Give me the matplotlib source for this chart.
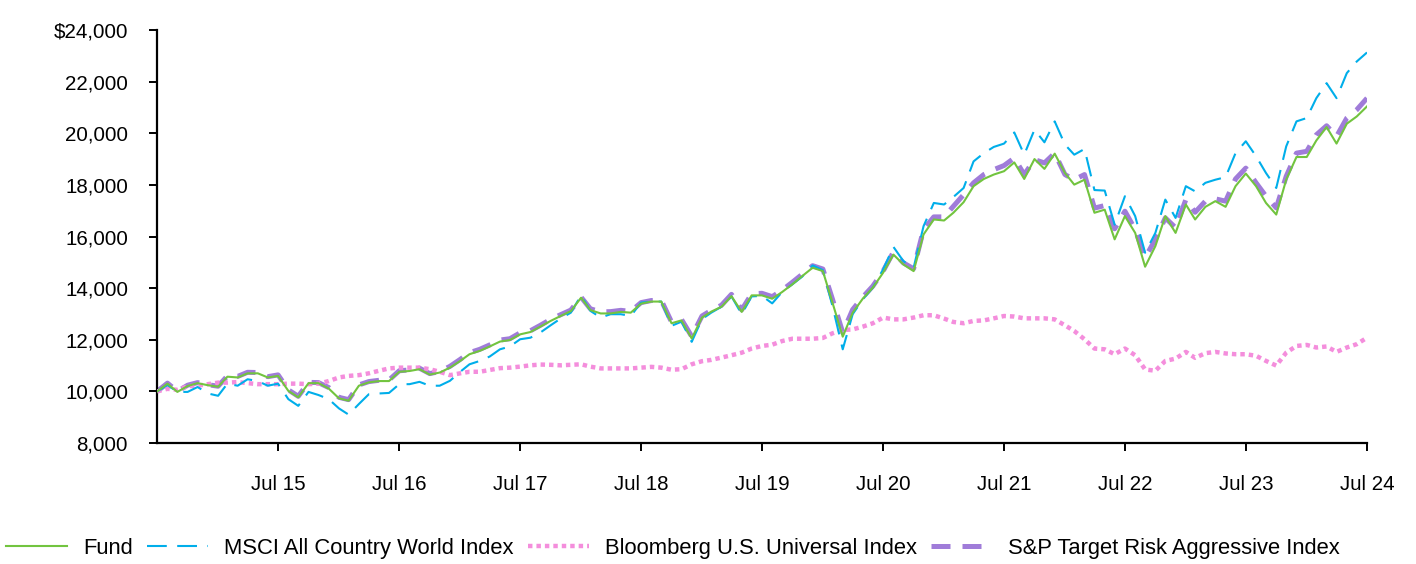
import matplotlib
matplotlib.use('Agg')
import matplotlib.pyplot as plt
import matplotlib.ticker as mticker
import pandas as pd

plt.rcParams['font.family'] = ['Liberation Sans', 'DejaVu Sans']

# month-end dates, Jul 2014 .. Jul 2024
dates = pd.date_range('2014-07-31', periods=121, freq='ME')

fund = [10000, 10300, 9980, 10210, 10320, 10240, 10180, 10570, 10540, 10700, 10700, 10540,
        10600, 10020, 9770, 10320, 10320, 10110, 9730, 9640, 10220, 10350, 10400, 10400,
        10760, 10790, 10860, 10650, 10730, 10920, 11180, 11440, 11570, 11740, 11930, 11990,
        12210, 12300, 12510, 12730, 12920, 13110, 13630, 13150, 13020, 13020, 13080, 13050,
        13400, 13480, 13480, 12640, 12750, 12050, 12860, 13090, 13280, 13690, 13080, 13720,
        13720, 13590, 13850, 14150, 14470, 14790, 14660, 13440, 12120, 13050, 13600, 14020,
        14600, 15300, 14920, 14660, 16080, 16660, 16620, 16920, 17330, 17950, 18230, 18400,
        18530, 18870, 18230, 19000, 18620, 19210, 18460, 18010, 18200, 16920, 17040, 15890,
        16790, 16140, 14830, 15630, 16790, 16140, 17240, 16660, 17150, 17370, 17150, 17950,
        18440, 17950, 17300, 16850, 18200, 19080, 19080, 19720, 20240, 19600, 20370, 20650,
        21040]

msci = [10000, 10250, 9980, 9980, 10170, 9920, 9830, 10300, 10220, 10470, 10400, 10220,
        10300, 9700, 9440, 9980, 9860, 9700, 9340, 9100, 9510, 9890, 9920, 9940,
        10280, 10280, 10370, 10220, 10220, 10410, 10760, 11050, 11180, 11350, 11630, 11740,
        12020, 12080, 12280, 12560, 12820, 13050, 13720, 13120, 12860, 12990, 12990, 12920,
        13440, 13480, 13480, 12540, 12700, 11920, 12800, 13050, 13280, 13680, 12990, 13680,
        13700, 13410, 13850, 14150, 14450, 14880, 14700, 13310, 11630, 12990, 13570, 14020,
        14730, 15600, 15050, 14790, 16400, 17300, 17240, 17530, 17880, 18910, 19230, 19470,
        19600, 20030, 19170, 20140, 19650, 20460, 19560, 19170, 19390, 17800, 17780, 16460,
        17560, 16790, 15370, 16140, 17430, 16720, 17950, 17750, 18080, 18200, 18300, 19230,
        19690, 19110, 18460, 17880, 19490, 20460, 20590, 21360, 21940, 21360, 22330, 22780,
        23130]

bloomberg = [10000, 10100, 10060, 10200, 10220, 10280, 10340, 10340, 10360, 10320, 10280, 10280,
             10280, 10300, 10300, 10280, 10300, 10400, 10540, 10600, 10630, 10700, 10800, 10890,
             10920, 10920, 10920, 10860, 10760, 10630, 10700, 10760, 10760, 10830, 10900, 10920,
             10960, 11010, 11040, 11030, 11010, 11030, 11050, 10960, 10890, 10890, 10890, 10890,
             10920, 10950, 10920, 10840, 10860, 11050, 11170, 11220, 11310, 11400, 11500, 11660,
             11760, 11810, 11950, 12040, 12040, 12040, 12070, 12250, 12380, 12400, 12510, 12640,
             12860, 12790, 12790, 12860, 12950, 12950, 12820, 12690, 12640, 12730, 12750, 12830,
             12920, 12900, 12830, 12830, 12830, 12790, 12560, 12340, 12020, 11660, 11630, 11440,
             11660, 11400, 10850, 10800, 11180, 11270, 11530, 11300, 11480, 11530, 11470, 11440,
             11440, 11380, 11180, 11000, 11500, 11760, 11800, 11700, 11740, 11530, 11700, 11830,
             12080]

sp_aggr = [10000, 10320, 10000, 10240, 10340, 10260, 10200, 10600, 10580, 10740, 10730, 10570,
           10640, 10060, 9810, 10350, 10340, 10150, 9770, 9680, 10250, 10380, 10430, 10440,
           10800, 10830, 10900, 10690, 10770, 10970, 11240, 11500, 11630, 11800, 11990, 12040,
           12270, 12350, 12560, 12790, 12970, 13150, 13650, 13200, 13080, 13090, 13140, 13100,
           13440, 13520, 13530, 12690, 12790, 12130, 12920, 13140, 13340, 13760, 13160, 13780,
           13800, 13670, 13920, 14230, 14540, 14870, 14740, 13570, 12280, 13170, 13660, 14080,
           14660, 15400, 14980, 14750, 16270, 16760, 16760, 17170, 17620, 18080, 18400, 18590,
           18750, 19040, 18400, 18980, 18850, 19230, 18400, 18200, 18400, 17100, 17200, 16300,
           16980, 16270, 15180, 15890, 16720, 16340, 17430, 16940, 17370, 17460, 17370, 18230,
           18650, 18080, 17560, 17110, 18330, 19230, 19300, 19940, 20290, 19880, 20590, 20910,
           21360]

labels = ['Fund', 'MSCI All Country World Index', 'Bloomberg U.S. Universal Index',
          'S&P Target Risk Aggressive Index']

fig = plt.figure(figsize=(14.16, 5.64), dpi=100)
ax = fig.add_axes([0.111, 0.2145, 0.8544, 0.7323])

l4, = ax.plot(dates, sp_aggr, color='#A07CD9', lw=3.6, dashes=(3.8, 2.4), label=labels[3], zorder=2)
l3, = ax.plot(dates, bloomberg, color='#F48EDC', lw=3.2, dashes=(1, 0.9), label=labels[2], zorder=3)
l2, = ax.plot(dates, msci, color='#00AEEA', lw=1.5, dashes=(9.5, 5), label=labels[1], zorder=4)
l1, = ax.plot(dates, fund, color='#72C43F', lw=1.5, label=labels[0], zorder=5)

ax.set_xlim(dates[0], dates[-1])
ax.set_ylim(8000, 24000)
ax.set_yticks(range(8000, 24001, 2000))
ax.yaxis.set_major_formatter(mticker.FuncFormatter(
    lambda v, p: ('$' if v == 24000 else '') + f'{int(v):,}'))

jul_ticks = [d for d in dates if d.month == 7][1:]
ax.set_xticks(jul_ticks)
ax.set_xticklabels(['Jul ' + d.strftime('%y') for d in jul_ticks])

for s in ['top', 'right']:
    ax.spines[s].set_visible(False)
for s in ['left', 'bottom']:
    ax.spines[s].set_linewidth(1.6)
ax.tick_params(axis='y', length=6, width=1.4, pad=15, labelsize=14.8)
ax.tick_params(axis='x', length=6, width=1.4, pad=17, labelsize=14.8)

fig.legend(handles=[l1, l2, l3, l4], loc='center', bbox_to_anchor=(0.4753, 0.028),
           ncol=4, frameon=False, fontsize=15.8, handlelength=2.8, handletextpad=0.72,
           columnspacing=0.64)

fig.savefig('out.png', dpi=100)
